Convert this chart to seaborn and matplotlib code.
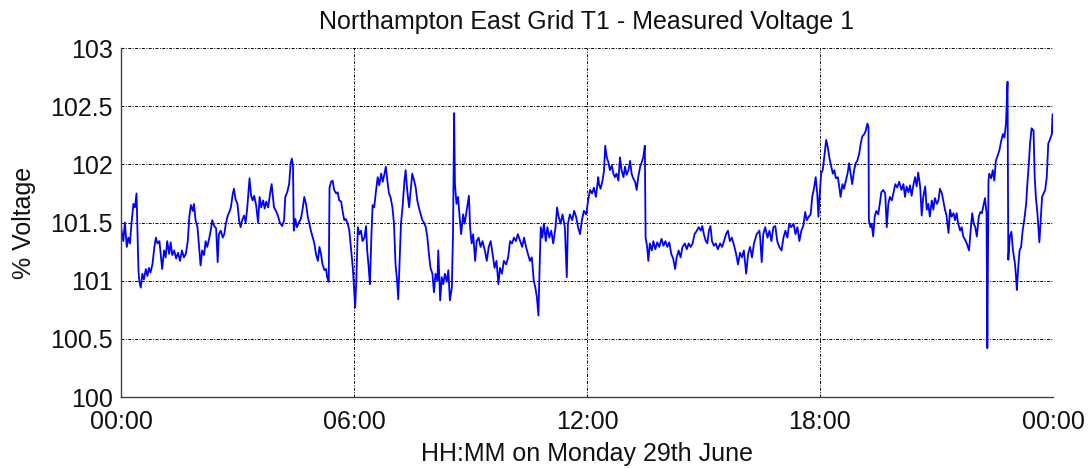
import matplotlib
matplotlib.use("Agg")
import matplotlib.pyplot as plt
import seaborn as sns
import pandas as pd

hours = [
0.00,0.06,0.10,0.15,0.19,0.23,0.27,0.32,0.36,0.40,0.45,0.47,0.51,0.55,0.59,0.64,0.68,0.72,0.76,0.81,
0.86,0.90,0.94,0.99,1.03,1.06,1.11,1.15,1.19,1.24,1.28,1.32,1.37,1.42,1.47,1.52,1.57,1.62,1.67,1.72,
1.76,1.80,1.85,1.88,1.92,1.97,2.01,2.05,2.09,2.14,2.18,2.22,2.27,2.31,2.35,2.40,2.45,2.49,2.52,2.57,
2.62,2.66,2.70,2.75,2.79,2.83,2.88,2.91,2.95,3.00,3.04,3.08,3.12,3.17,3.21,3.25,3.31,3.35,3.39,3.43,
3.48,3.53,3.57,3.61,3.66,3.70,3.74,3.79,3.84,3.88,3.92,
3.94,3.99,4.04,4.09,4.15,4.20,4.23,4.28,4.33,4.37,4.40,4.43,4.45,4.49,4.53,4.58,4.63,4.67,4.72,4.77,
4.81,4.85,4.89,4.94,4.98,5.02,5.07,5.11,5.15,5.19,5.24,5.28,5.31,5.35,5.37,5.41,5.45,5.49,5.54,5.58,
5.62,5.67,5.71,5.75,5.79,5.84,5.88,5.92,5.97,6.00,6.03,6.06,6.10,6.14,6.18,6.22,6.27,6.31,6.34,6.38,
6.41,6.45,6.48,6.52,6.57,6.61,6.65,6.70,6.74,6.78,6.82,6.86,6.90,6.94,6.99,7.03,7.07,7.11,7.14,7.18,
7.21,7.25,7.30,7.33,7.37,7.42,7.46,7.50,7.55,7.59,7.63,7.67,7.72,7.76,7.80,7.85,7.89,7.93,7.97,8.02,
8.06,8.10,8.15,
8.17,8.22,8.26,8.30,8.34,8.39,8.43,8.47,8.52,8.55,8.58,8.60,8.64,8.68,8.72,8.76,8.81,8.85,8.90,8.96,
8.99,9.03,9.07,9.12,9.16,9.21,9.26,9.31,9.37,9.42,9.47,9.52,9.57,9.62,9.67,9.72,9.76,9.81,9.86,9.92,
9.97,10.02,10.07,10.12,10.17,10.22,10.28,10.33,10.38,10.43,10.48,10.53,10.58,10.63,10.67,10.71,10.75,10.78,10.81,10.85,
10.89,10.94,10.98,11.03,11.08,11.13,11.19,11.23,11.27,11.32,11.37,11.43,11.48,11.51,11.56,11.62,11.67,11.72,11.77,11.82,
11.87,11.92,11.98,12.03,12.08,12.13,12.18,12.23,12.29,
12.31,12.35,12.40,12.44,12.47,12.51,12.55,12.59,12.64,12.68,12.72,12.76,12.81,12.85,12.89,12.94,12.98,13.02,13.07,13.11,
13.15,13.19,13.24,13.28,13.32,13.37,13.41,13.45,13.49,13.51,13.55,13.58,13.62,13.67,13.71,13.76,13.81,13.86,13.92,13.97,
14.02,14.07,14.12,14.17,14.22,14.27,14.31,14.36,14.41,14.46,14.52,14.57,14.62,14.67,14.72,14.77,14.83,14.88,14.93,14.97,
15.01,15.06,15.10,15.14,15.18,15.22,15.27,15.32,15.37,15.43,15.48,15.53,15.58,15.63,15.68,15.73,15.79,15.84,15.89,15.94,
15.99,16.04,16.10,16.15,16.20,16.25,16.30,16.37,16.44,
16.46,16.50,16.54,16.59,16.65,16.70,16.75,16.80,16.85,16.90,16.95,17.01,17.06,17.11,17.16,17.21,17.26,17.32,17.37,17.42,
17.47,17.52,17.57,17.62,17.66,17.71,17.76,17.80,17.85,17.89,17.93,17.96,17.99,18.03,18.07,18.11,18.16,18.20,18.24,18.29,
18.33,18.37,18.41,18.46,18.50,18.53,18.58,18.62,18.66,18.71,18.75,18.79,18.83,18.88,18.92,18.96,19.01,19.05,19.09,19.14,
19.18,19.22,19.25,19.26,19.30,19.33,19.37,19.41,19.45,19.50,19.54,19.58,19.63,19.68,19.72,19.76,19.80,19.85,19.89,19.94,
19.99,20.04,
20.10,20.15,20.19,20.23,20.28,20.32,20.36,20.41,20.45,20.49,20.53,20.58,20.62,20.66,20.71,20.75,20.79,20.83,20.88,20.92,
20.96,21.01,21.05,21.09,21.14,21.18,21.22,21.26,21.31,21.35,21.39,21.44,21.48,21.52,21.56,21.61,21.65,21.69,21.74,21.78,
21.84,21.88,21.92,21.96,22.00,22.04,22.09,22.13,22.17,22.22,22.25,22.29,22.31,22.34,22.36,22.41,22.45,22.49,22.53,22.58,
22.62,22.66,22.71,22.75,22.79,22.83,22.85,22.89,22.93,22.97,23.02,23.05,23.07,23.10,23.14,23.18,23.22,23.26,23.31,23.34,
23.38,23.41,23.45,23.50,23.53,23.56,23.60,23.65,23.69,23.72,23.76,23.80,23.84,23.88,23.92,23.97,23.99,24.03,
]

voltage = [
101.46,101.34,101.50,101.29,101.37,101.32,101.49,101.66,101.63,101.75,101.09,101.00,100.94,101.06,101.01,101.10,101.04,101.11,101.07,101.14,
101.29,101.37,101.32,101.34,101.20,101.10,101.26,101.20,101.34,101.23,101.33,101.22,101.26,101.19,101.24,101.17,101.26,101.20,101.23,101.34,
101.55,101.65,101.60,101.66,101.52,101.46,101.29,101.13,101.26,101.22,101.34,101.29,101.36,101.43,101.52,101.47,101.45,101.16,101.40,101.43,
101.37,101.40,101.49,101.56,101.59,101.63,101.75,101.79,101.70,101.66,101.52,101.46,101.52,101.56,101.50,101.62,101.88,101.73,101.69,101.73,
101.65,101.50,101.72,101.63,101.69,101.62,101.68,101.63,101.75,101.83,101.70,
101.63,101.60,101.56,101.50,101.47,101.52,101.72,101.76,101.83,102.01,102.05,101.98,101.43,101.53,101.46,101.50,101.53,101.60,101.72,101.65,
101.55,101.49,101.43,101.37,101.32,101.23,101.17,101.29,101.23,101.14,101.09,101.10,101.03,100.99,101.80,101.85,101.86,101.78,101.75,101.76,
101.69,101.68,101.59,101.52,101.53,101.49,101.43,101.29,101.11,100.94,100.77,101.00,101.46,101.40,101.43,101.34,101.37,101.47,101.26,101.11,
100.97,101.40,101.65,101.63,101.78,101.89,101.82,101.92,101.85,101.91,101.98,101.86,101.75,101.72,101.63,101.49,101.14,101.00,100.84,101.20,
101.49,101.63,101.86,101.95,101.78,101.63,101.78,101.92,101.86,101.80,101.69,101.63,101.57,101.52,101.50,101.46,101.37,101.23,101.11,101.06,
100.90,101.06,101.00,
101.26,100.83,101.03,100.97,101.06,100.99,101.09,100.83,100.94,101.40,102.44,101.83,101.66,101.72,101.55,101.40,101.57,101.49,101.60,101.73,
101.46,101.32,101.40,101.17,101.34,101.37,101.29,101.34,101.26,101.17,101.29,101.34,101.23,101.11,101.17,100.97,101.11,101.06,101.17,101.14,
101.20,101.34,101.32,101.37,101.34,101.40,101.34,101.29,101.37,101.29,101.23,101.17,101.20,101.00,100.94,100.86,100.70,101.11,101.46,101.37,
101.49,101.34,101.46,101.37,101.43,101.32,101.46,101.63,101.55,101.49,101.57,101.46,101.03,101.49,101.57,101.52,101.60,101.55,101.46,101.40,
101.52,101.60,101.57,101.69,101.78,101.75,101.80,101.72,101.89,
101.83,101.79,101.86,101.95,102.16,102.06,102.02,101.95,101.99,101.92,101.89,101.92,101.86,102.06,101.95,101.89,101.98,101.91,101.95,102.03,
101.92,101.88,101.85,101.78,101.89,101.98,102.02,102.06,102.16,101.37,101.29,101.17,101.32,101.26,101.34,101.27,101.33,101.29,101.36,101.30,
101.34,101.29,101.33,101.23,101.19,101.10,101.20,101.26,101.20,101.29,101.32,101.27,101.32,101.29,101.32,101.40,101.43,101.46,101.43,101.47,
101.40,101.34,101.32,101.43,101.47,101.34,101.30,101.32,101.27,101.32,101.29,101.34,101.40,101.43,101.34,101.37,101.30,101.23,101.14,101.24,
101.20,101.26,101.06,101.23,101.29,101.20,101.32,101.40,101.43,
101.37,101.16,101.40,101.46,101.37,101.43,101.34,101.46,101.47,101.34,101.29,101.26,101.37,101.43,101.37,101.49,101.46,101.49,101.40,101.46,
101.34,101.43,101.47,101.59,101.52,101.55,101.57,101.72,101.80,101.89,101.75,101.55,101.72,101.92,101.95,102.06,102.21,102.15,102.06,101.98,
101.92,101.95,101.88,101.89,101.80,101.72,101.83,101.79,101.85,101.92,102.01,101.92,101.83,101.95,102.01,102.03,102.09,102.18,102.24,102.26,
102.29,102.35,102.32,101.52,101.46,101.49,101.38,101.55,101.60,101.57,101.66,101.76,101.78,101.75,101.46,101.66,101.72,101.69,101.75,101.83,
101.80,101.85,
101.78,101.83,101.72,101.81,101.76,101.82,101.73,101.83,101.89,101.81,101.93,101.81,101.56,101.72,101.81,101.61,101.66,101.55,101.69,101.61,
101.71,101.66,101.69,101.79,101.75,101.68,101.61,101.56,101.41,101.61,101.55,101.58,101.52,101.58,101.49,101.43,101.46,101.38,101.35,101.32,
101.26,101.43,101.58,101.49,101.46,101.38,101.55,101.59,101.58,101.66,101.71,101.58,100.42,101.86,101.92,101.88,101.95,101.86,102.03,102.08,
102.12,102.19,102.26,102.23,102.35,102.71,101.18,101.38,101.42,101.26,101.15,101.03,100.92,101.09,101.26,101.29,101.43,101.52,101.66,101.83,
102.01,102.18,102.31,102.29,101.89,101.72,101.58,101.33,101.55,101.72,101.75,101.78,101.89,102.18,102.21,102.26,102.43,102.22,
]

y_ticks = [100, 100.5, 101, 101.5, 102, 102.5, 103]
y_tick_labels = ["100", "100.5", "101", "101.5", "102", "102.5", "103"]
x_ticks = [0, 6, 12, 18, 24]
x_tick_labels = ["00:00", "06:00", "12:00", "18:00", "00:00"]

df = pd.DataFrame({"hour": hours, "voltage": voltage})

sns.set_style("white")
plt.rcParams["font.family"] = ["Liberation Sans", "DejaVu Sans"]

fig = plt.figure(figsize=(10.89, 4.68), dpi=100)
ax = fig.add_axes([0.1111, 0.1517, 0.8558, 0.7457])

sns.lineplot(data=df, x="hour", y="voltage", ax=ax, color="#0000ff",
             linewidth=1.3, sort=False, estimator=None)

ax.set_xlim(0, 24)
ax.set_ylim(100, 103)
ax.set_xticks(x_ticks)
ax.set_xticklabels(x_tick_labels)
ax.set_yticks(y_ticks)
ax.set_yticklabels(y_tick_labels)

grid_style = (0, (3, 1.5, 1, 1.5))
ax.grid(True, color="black", linestyle=grid_style, linewidth=0.7)
ax.set_axisbelow(True)

for s in ["top", "right"]:
    ax.spines[s].set_visible(False)
for s in ["left", "bottom"]:
    ax.spines[s].set_color("#404040")
    ax.spines[s].set_linewidth(1.0)

ax.tick_params(axis="both", which="both", direction="in", length=0,
               labelsize=18, colors="#111111")
ax.tick_params(axis="y", pad=6)
ax.tick_params(axis="x", pad=9)

ax.set_title("Northampton East Grid T1 - Measured Voltage 1", fontsize=18,
             color="#111111", pad=14)
ax.set_xlabel("HH:MM on Monday 29th June", fontsize=18, color="#111111", labelpad=6)
ax.set_ylabel("% Voltage", fontsize=18, color="#111111", labelpad=10)

fig.savefig("out.png", dpi=100)
